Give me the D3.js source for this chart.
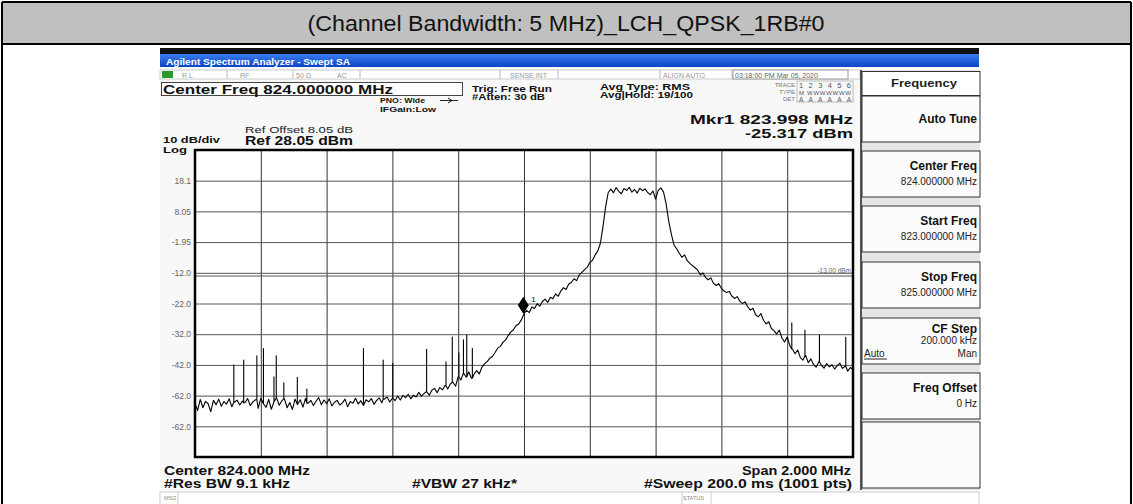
<!DOCTYPE html>
<html><head><meta charset="utf-8">
<script src="https://cdn.jsdelivr.net/npm/d3@7"></script>
<style>html,body{margin:0;padding:0;background:#fff;}svg{display:block;font-family:"Liberation Sans",Arial,sans-serif;}</style>
</head><body><svg id="c" width="1133" height="504"></svg>
<script>
// ---------- data ----------
const title = "(Channel Bandwidth: 5 MHz)_LCH_QPSK_1RB#0";
const startFreq = 823.0, stopFreq = 825.0;     // MHz
const refLevel = 28.05, dbPerDiv = 10, nDiv = 10;
const traceStep = 0.008;                       // MHz between listed trace samples
const traceLevels = [
 -54.5,-56.8,-53.2,-55.9,-53.8,-54.6,-57.2,-53.5,-54.9,-53.1,
 -55.4,-53.9,-54.7,-53.0,-55.6,-54.1,-53.4,-55.0,-53.7,-54.3,
 -52.9,-55.2,-54.0,-53.3,-56.1,-52.8,-54.6,-55.8,-53.2,-56.4,
 -54.0,-52.7,-55.1,-53.6,-53.0,-55.9,-54.2,-56.5,-53.1,-54.8,
 -53.3,-55.7,-52.9,-54.4,-53.5,-55.2,-53.8,-52.6,-54.9,-53.4,
 -54.6,-53.0,-55.3,-54.1,-53.5,-55.0,-54.3,-53.1,-55.6,-53.9,
 -54.4,-52.8,-54.7,-53.6,-55.2,-53.3,-54.0,-52.9,-54.8,-53.5,
 -52.7,-54.3,-53.1,-52.4,-54.0,-52.8,-53.6,-52.1,-53.4,-51.9,
 -52.6,-51.5,-53.0,-51.8,-52.4,-50.9,-52.1,-51.3,-50.6,-51.8,
 -50.2,-49.6,-51.0,-49.3,-50.1,-48.7,-49.8,-48.2,-47.6,-48.9,
 -45.8,-46.9,-44.6,-45.9,-44.2,-46.3,-45.0,-43.8,-44.9,-42.7,
 -41.6,-40.9,-39.8,-39.2,-37.9,-36.5,-35.9,-34.6,-33.8,-32.4,
 -31.2,-30.5,-29.1,-28.6,-27.3,-25.3,-24.2,-24.9,-23.1,-23.6,
 -22.0,-22.8,-21.3,-20.5,-21.6,-19.9,-20.4,-18.8,-19.6,-17.9,
 -16.8,-17.4,-15.6,-15.1,-13.9,-14.5,-12.6,-11.8,-10.9,-10.2,
 -8.6,-7.9,-6.2,-4.9,-2.4,3.0,9.5,14.2,
 15.3,14.1,15.8,14.6,13.8,15.5,14.9,15.9,14.3,15.2,14.0,15.6,14.8,15.4,14.2,13.5,14.7,12.1,14.9,15.7,14.4,
 10.5,4.8,0.6,-2.9,
 -4.1,-5.6,-6.9,-6.1,-8.0,-8.9,-9.6,
 -10.3,-11.1,-12.6,-12.0,-13.5,-14.2,-13.6,-15.4,-16.1,-15.5,
 -17.0,-17.9,-18.4,-18.0,-19.6,-20.3,-19.7,-21.2,-22.0,-21.4,
 -23.0,-24.1,-23.5,-25.6,-26.3,-25.2,-27.4,-28.6,-27.9,-30.1,
 -30.8,-31.9,-30.6,-33.2,-34.5,-32.9,-35.6,-36.8,-38.3,-37.1,
 -39.6,-40.4,-38.9,-41.2,-40.0,-41.8,-42.7,-40.9,-42.1,-43.0,
 -41.5,-42.6,-41.9,-43.3,-42.2,-41.4,-43.1,-42.4,-44.0,-42.8,-43.5
];
const spurFreqs  = [823.118,823.148,823.188,823.208,823.240,823.247,823.270,823.311,823.340,
                    823.512,823.572,823.601,823.704,823.763,823.782,823.802,823.816,823.826,823.843,
                    824.814,824.854,824.898,824.978];
const spurLevels = [-42.0,-40.4,-39.0,-36.6,-45.8,-39.0,-47.8,-46.0,-49.8,
                    -36.6,-40.4,-41.4,-36.9,-40.9,-32.9,-38.0,-33.8,-32.2,-36.6,
                    -28.2,-30.6,-32.2,-33.0];
const markerFreq = 823.998, markerLevel = -25.317;
const limitLevel = -13.0;
const yTickLabels = ["18.1","8.05","-1.95","-12.0","-22.0","-32.0","-42.0","-62.0","-62.0"];
const softkeys = [
  {label:"Auto Tune", value:""},
  {label:"Center Freq", value:"824.000000 MHz"},
  {label:"Start Freq", value:"823.000000 MHz"},
  {label:"Stop Freq", value:"825.000000 MHz"},
  {label:"CF Step", value:"200.000 kHz"},
  {label:"Freq Offset", value:"0 Hz"}
];

// ---------- drawing ----------
const svg = d3.select("#c");
const W = 1133, H = 504;

// outer table
svg.append("rect").attr("x",2).attr("y",2).attr("width",1129).attr("height",42).attr("fill","#c0c0c0");
svg.append("text").attr("x",566).attr("y",31).attr("text-anchor","middle")
  .attr("font-size",22).attr("fill","#111").attr("textLength",517).attr("lengthAdjust","spacingAndGlyphs").text(title);
[[2,2,1131,2],[2,44,1131,44],[2,2,2,504],[1131,2,1131,504]].forEach(l=>
  svg.append("line").attr("x1",l[0]).attr("y1",l[1]).attr("x2",l[2]).attr("y2",l[3]).attr("stroke","#000").attr("stroke-width",2));

// screenshot
const sx0 = 160, sx1 = 979;
svg.append("rect").attr("x",sx0).attr("y",48).attr("width",sx1-sx0).attr("height",H-48).attr("fill","#f8f8f8");
svg.append("rect").attr("x",sx0).attr("y",48).attr("width",sx1-sx0).attr("height",6).attr("fill","#111");
const defs = svg.append("defs");
const g1 = defs.append("linearGradient").attr("id","blue").attr("x1",0).attr("y1",0).attr("x2",0).attr("y2",1);
g1.append("stop").attr("offset","0").attr("stop-color","#3b7cf0");
g1.append("stop").attr("offset","1").attr("stop-color","#0c45c4");
svg.append("rect").attr("x",sx0).attr("y",54).attr("width",sx1-sx0).attr("height",13).attr("fill","url(#blue)");
svg.append("text").attr("x",166).attr("y",64.5).attr("font-size",9).attr("font-weight","bold").attr("fill","#fff")
  .attr("textLength",184).attr("lengthAdjust","spacingAndGlyphs").text("Agilent Spectrum Analyzer - Swept SA");

// status row
svg.append("rect").attr("x",sx0).attr("y",70).attr("width",700).attr("height",9).attr("fill","#fff").attr("stroke","#ccc");
[227,293,360,500,558,660,732].forEach(x=>svg.append("line").attr("x1",x).attr("x2",x).attr("y1",70).attr("y2",79).attr("stroke","#bbb"));
svg.append("rect").attr("x",733).attr("y",70).attr("width",115).attr("height",9).attr("fill","#fff").attr("stroke","#999");
svg.append("rect").attr("x",162).attr("y",71).attr("width",11).attr("height",7).attr("fill","#2a9a2a");
const small = (x,y,t,opt={})=>svg.append("text").attr("x",x).attr("y",y).attr("font-size",opt.fs||7)
  .attr("fill",opt.fill||"#999").attr("text-anchor",opt.anchor||"start").attr("font-weight",opt.fw||"normal").text(t);
small(182,77.5,"R L"); small(240,77.5,"RF"); small(296,77.5,"50 Ω"); small(337,77.5,"AC");
small(510,77.5,"SENSE:INT"); small(663,77.5,"ALIGN AUTO");
small(735,77.5,"03:18:00 PM Mar 05, 2020",{fill:"#666",fs:7});

// center freq box
svg.append("rect").attr("x",161.5).attr("y",82.5).attr("width",301).attr("height",13).attr("fill","#fff").attr("stroke","#444");
const bold = (x,y,t,fs,len,anchor)=>{const s=svg.append("text").attr("x",x).attr("y",y).attr("font-size",fs)
  .attr("font-weight","bold").attr("fill","#111").attr("text-anchor",anchor||"start").text(t);
  if(len) s.attr("textLength",len).attr("lengthAdjust","spacingAndGlyphs"); return s;};
bold(163,94,"Center Freq 824.000000 MHz",12.5,230);
bold(380,103,"PNO: Wide",8,45);
svg.append("path").attr("d","M440,100.5 L458,100.5 M448,98 L452,100.5 L448,103").attr("stroke","#222").attr("fill","none");
bold(380,111.5,"IFGain:Low",8,56);
bold(472,92,"Trig: Free Run",8.5,80);
bold(472,100,"#Atten: 30 dB",8.5,73);
bold(600,89.5,"Avg Type: RMS",9,90);
bold(600,97.5,"Avg|Hold: 19/100",9,93);
small(795,87,"TRACE",{anchor:"end",fs:6,fill:"#777"});
small(795,94,"TYPE",{anchor:"end",fs:6,fill:"#777"});
small(795,101,"DET",{anchor:"end",fs:6,fill:"#777"});
svg.append("rect").attr("x",797).attr("y",81).attr("width",56).attr("height",21).attr("fill","none").attr("stroke","#bbb");
small(799,88,"1 2 3 4 5 6",{fs:7.5,fill:"#556"}).attr("textLength",52);
small(799,95,"M WWWWWWW",{fs:6,fill:"#556"}).attr("textLength",52);
small(799,102,"A A A A A A",{fs:6.5,fill:"#556"}).attr("textLength",52);
bold(853,124,"Mkr1 823.998 MHz",13.5,163,"end");
bold(853,138,"-25.317 dBm",13.5,108,"end");
bold(245,133,"Ref Offset 8.05 dB",9,108).attr("font-weight","normal").attr("fill","#222");
bold(245,144.5,"Ref 28.05 dBm",12,108);
bold(163,143,"10 dB/div",8.5,57);
bold(163,152.5,"Log",8.5,24);

// plot
const px0 = 195, px1 = 853, py0 = 150, py1 = 457;
const x = d3.scaleLinear().domain([startFreq, stopFreq]).range([px0, px1]);
const y = d3.scaleLinear().domain([refLevel - dbPerDiv*nDiv, refLevel]).range([py1, py0]);
svg.append("rect").attr("x",px0).attr("y",py0).attr("width",px1-px0).attr("height",py1-py0).attr("fill","#fff");
const xGrid = d3.range(1, nDiv).map(i => startFreq + i*(stopFreq-startFreq)/nDiv);
const yGridVals = d3.range(1, nDiv).map(i => refLevel - i*dbPerDiv);
svg.append("g").attr("transform",`translate(0,${py1})`)
  .call(d3.axisBottom(x).tickValues(xGrid).tickSize(-(py1-py0)).tickFormat(""))
  .call(g=>{g.select(".domain").remove(); g.selectAll("line").attr("stroke","#333");});
svg.append("g").attr("transform",`translate(${px0},0)`)
  .call(d3.axisLeft(y).tickValues(yGridVals).tickSize(-(px1-px0)).tickPadding(4)
        .tickFormat((d,i)=>yTickLabels[i]))
  .call(g=>{g.select(".domain").remove(); g.selectAll("line").attr("stroke","#555");
            g.selectAll("text").attr("font-size",8.5).attr("fill","#666").attr("font-family","Liberation Sans, Arial, sans-serif");});
// limit line
svg.append("line").attr("x1",px0).attr("x2",px1).attr("y1",y(limitLevel)).attr("y2",y(limitLevel)).attr("stroke","#555");
small(851,y(limitLevel)-3,"-13.00 dBm",{anchor:"end",fs:6.5,fill:"#666"});

// trace
const pts = traceLevels.map((v,i)=>({f:startFreq+i*traceStep, v}));
spurFreqs.forEach((f,k)=>{
  const idx = Math.round((f-startFreq)/traceStep);
  const base = traceLevels[idx];
  pts.push({f, v:base, o:0},{f, v:spurLevels[k], o:1},{f, v:base, o:2});
});
pts.sort((a,b)=> a.f-b.f || (a.o||0)-(b.o||0));
svg.append("path").datum(pts).attr("fill","none").attr("stroke","#000").attr("stroke-width",1.1)
  .attr("stroke-linejoin","round")
  .attr("d", d3.line().x(d=>x(d.f)).y(d=>y(d.v)));

// marker
const mx = x(markerFreq), my = y(markerLevel);
svg.append("path").attr("d",`M${mx},${my} L${mx+5.5},${my-8.5} L${mx},${my-17} L${mx-5.5},${my-8.5} Z`).attr("fill","#000");
small(mx+8,my-12,"1",{fs:8,fill:"#000"});

// plot frame
svg.append("rect").attr("x",px0).attr("y",py0).attr("width",px1-px0).attr("height",py1-py0)
  .attr("fill","none").attr("stroke","#000").attr("stroke-width",2.5);

// bottom annotations
bold(164,474.5,"Center 824.000 MHz",12,146);
bold(851,474.5,"Span 2.000 MHz",12,109,"end");
bold(164,488,"#Res BW 9.1 kHz",12,126);
bold(412,488,"#VBW 27 kHz*",12,105);
bold(852,488,"#Sweep  200.0 ms (1001 pts)",12,208,"end");
svg.append("rect").attr("x",sx0).attr("y",492).attr("width",sx1-sx0).attr("height",14).attr("fill","#fff").attr("stroke","#ccc");
[178,682,711].forEach(xx=>svg.append("line").attr("x1",xx).attr("x2",xx).attr("y1",492).attr("y2",504).attr("stroke","#ccc"));
small(164,500,"MSG",{fs:5.5,fill:"#888"});
small(683,500,"STATUS",{fs:5.5,fill:"#888"});

// right softkey panel
const kx0 = 862, kx1 = 980;
svg.append("rect").attr("x",kx0-1).attr("y",70).attr("width",kx1-kx0+1).attr("height",420).attr("fill","#e6e6e6");
svg.append("line").attr("x1",kx0-1).attr("x2",kx0-1).attr("y1",70).attr("y2",490).attr("stroke","#222").attr("stroke-width",1.5);
svg.append("rect").attr("x",kx0).attr("y",71.5).attr("width",kx1-kx0).attr("height",24).attr("fill","#fff").attr("stroke","#333");
bold(891,87,"Frequency",11,66).attr("fill","#222");
const keyTops = [96,151,206,262,318,373];
const kg = svg.append("g");
softkeys.forEach((k,i)=>{
  const t = keyTops[i], h = 46;
  kg.append("rect").attr("x",kx0).attr("y",t).attr("width",kx1-kx0).attr("height",h).attr("fill","#fbfbfb").attr("stroke","#333");
  if(k.label==="CF Step"){
    bold(977,t+15,k.label,12,null,"end");
    small(977,t+26,k.value,{anchor:"end",fs:10,fill:"#222"});
    small(864,t+39,"Auto",{fs:10,fill:"#222"});
    svg.append("line").attr("x1",864).attr("x2",887).attr("y1",t+41).attr("y2",t+41).attr("stroke","#222");
    small(977,t+39,"Man",{anchor:"end",fs:10,fill:"#222"});
  } else if(k.value){
    bold(977,t+19,k.label,12,null,"end");
    small(977,t+34,k.value,{anchor:"end",fs:10,fill:"#222"});
  } else {
    bold(977,t+27,k.label,12,null,"end");
  }
});
kg.append("rect").attr("x",kx0).attr("y",422).attr("width",kx1-kx0).attr("height",66).attr("fill","#fbfbfb").attr("stroke","#333");
</script></body></html>
